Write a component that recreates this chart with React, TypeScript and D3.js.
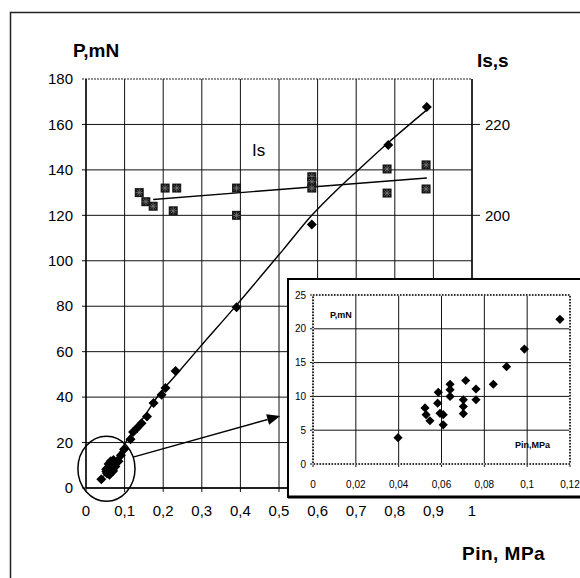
import React from 'react';
import * as d3 from 'd3';

// P (mN) against Pin (MPa): the low points, which the inset also shows
const lowPin = [0.0397, 0.0523, 0.0528, 0.0546, 0.0582, 0.0585, 0.0593, 0.0608, 0.0608, 0.064, 0.064, 0.064, 0.0702, 0.0702, 0.0702, 0.0713, 0.0761, 0.0761, 0.0842, 0.0904, 0.0987, 0.1153];
const lowP = [3.9, 8.3, 7.3, 6.4, 9.0, 10.6, 7.5, 7.3, 5.8, 11.8, 11.0, 10.0, 9.5, 8.5, 7.45, 12.35, 11.1, 9.5, 11.8, 14.4, 17.0, 21.4];
// the rest of the P points
const highPin = [0.122, 0.133, 0.144, 0.158, 0.175, 0.196, 0.206, 0.232, 0.39, 0.585, 0.783, 0.883];
const highP = [24.6, 26.5, 28.5, 31.5, 37.4, 41, 44, 51.5, 79.6, 116, 151, 167.7];

// Is (s) against Pin, right axis
const isPin = [0.138, 0.155, 0.174, 0.205, 0.235, 0.226, 0.39, 0.39, 0.585, 0.585, 0.585, 0.78, 0.78, 0.881, 0.881];
const isVal = [205, 203, 202, 206, 206, 201, 206, 200, 208.5, 207.4, 206, 210.2, 204.9, 211.1, 205.8];

// hand drawn lines
const trendPin = [0.045, 0.075, 0.106, 0.148, 0.192, 0.233, 0.295, 0.39, 0.51, 0.585, 0.658, 0.697, 0.782, 0.883];
const trendP = [5, 12, 21, 30.8, 41.8, 49.7, 62, 80.5, 104.7, 120, 132.5, 138.6, 151.8, 166.4];
const isTrendPin = [0.174, 0.883];
const isTrendVal = [203.5, 208.2];

// ticks
const xTicks = [0, 0.1, 0.2, 0.3, 0.4, 0.5, 0.6, 0.7, 0.8, 0.9, 1];
const yTicks = [0, 20, 40, 60, 80, 100, 120, 140, 160, 180];
const rightTicks = [160, 180, 200, 220];
const insetXTicks = [0, 0.02, 0.04, 0.06, 0.08, 0.1, 0.12];
const insetYTicks = [0, 5, 10, 15, 20, 25];

const FONT = '"Liberation Sans", Arial, sans-serif';
const comma = (d: number) => String(d).replace('.', ',');

const diamond = (size: number) => d3.symbol(d3.symbolSquare, size)() as string;
const star = (r: number) => {
  const k = r * 0.72;
  return `M${-r},0L${r},0M0,${-r}L0,${r}M${-k},${-k}L${k},${k}M${-k},${k}L${k},${-k}`;
};

export default function App() {
  const x = d3.scaleLinear([0, 1], [86, 472]);
  const y = d3.scaleLinear([0, 180], [488, 79]);
  const yR = d3.scaleLinear([140, 230], [488, 79]);

  const ix = d3.scaleLinear([0, 0.12], [313, 570]);
  const iy = d3.scaleLinear([0, 25], [464, 295]);

  const allPin = lowPin.concat(highPin);
  const allP = lowP.concat(highP);

  const pLine = d3
    .line<number>()
    .x((d, i) => x(trendPin[i]))
    .y((d) => y(d))
    .curve(d3.curveCatmullRom)(trendP) as string;
  const isLine = d3.line<number>().x((d, i) => x(isTrendPin[i])).y((d) => yR(d))(isTrendVal) as string;

  // circle round the low points and the arrow to the inset
  const cx = x(0.053), cy = y(8.5);
  const rx = x(0.053 + 0.074) - cx, ry = cy - y(8.5 + 14.3);
  const a0 = [x(0.122), y(13.6)], a1 = [x(0.503), y(31.7)];
  const ang = Math.atan2(a1[1] - a0[1], a1[0] - a0[0]);
  const hl = 13, hw = 5.5;
  const bx = a1[0] - hl * Math.cos(ang), by = a1[1] - hl * Math.sin(ang);
  const head = `M${a1[0]},${a1[1]}L${bx - hw * Math.sin(ang)},${by + hw * Math.cos(ang)}L${bx + hw * Math.sin(ang)},${by - hw * Math.cos(ang)}Z`;

  return (
    <svg width={580} height={578} style={{ position: 'absolute', left: 0, top: 0, background: '#fff' }} fontFamily={FONT}>
      {/* outer frame */}
      <rect x={10.5} y={12.5} width={600} height={600} fill="none" stroke="#222" strokeWidth={1.5} />

      {/* main grid */}
      {xTicks.map((t) => (
        <line key={'gx' + t} x1={x(t)} x2={x(t)} y1={y(180)} y2={y(0) + 4} stroke="#111" strokeWidth={1} />
      ))}
      {yTicks.map((t) =>
        t === 180 ? (
          <line key={'gy' + t} x1={x(0) - 4} x2={x(1)} y1={y(t)} y2={y(t)} stroke="#222" strokeWidth={1} strokeDasharray="2 1" />
        ) : (
          <line key={'gy' + t} x1={x(0) - 4} x2={x(1)} y1={y(t)} y2={y(t)} stroke="#111" strokeWidth={1} />
        )
      )}
      <line x1={x(0)} x2={x(1)} y1={y(0)} y2={y(0)} stroke="#000" strokeWidth={1.5} />
      <line x1={x(0)} x2={x(0)} y1={y(0)} y2={y(180)} stroke="#000" strokeWidth={1.3} />
      <line x1={x(1)} x2={x(1)} y1={y(0)} y2={y(180)} stroke="#000" strokeWidth={1.3} />

      {/* left axis labels */}
      {yTicks.map((t) => (
        <text key={'ly' + t} x={73} y={y(t)} dy="0.35em" textAnchor="end" fontSize={15}>
          {t}
        </text>
      ))}
      {/* bottom axis labels */}
      {xTicks.map((t) => (
        <text key={'lx' + t} x={x(t)} y={516} textAnchor="middle" fontSize={15}>
          {comma(t)}
        </text>
      ))}
      {/* right axis */}
      {rightTicks.map((t) => (
        <g key={'r' + t}>
          <line x1={x(1)} x2={x(1) + 8} y1={yR(t)} y2={yR(t)} stroke="#111" strokeWidth={1} />
          <text x={485} y={yR(t)} dy="0.35em" fontSize={15}>
            {t}
          </text>
        </g>
      ))}

      <text x={73} y={57} fontSize={19} fontWeight="bold">P,mN</text>
      <text x={477} y={67} fontSize={19} fontWeight="bold">Is,s</text>
      <text x={462} y={560} fontSize={19} fontWeight="bold" letterSpacing={0.5}>Pin, MPa</text>
      <text x={x(0.43)} y={y(146)} fontSize={17}>Is</text>

      {/* lines */}
      <path d={isLine} fill="none" stroke="#000" strokeWidth={1.4} />
      <path d={pLine} fill="none" stroke="#000" strokeWidth={1.4} />

      {/* Is markers */}
      {isPin.map((p, i) => (
        <g key={'s' + i} transform={`translate(${x(p)},${yR(isVal[i])})`}>
          <rect x={-4.5} y={-4.5} width={9} height={9} fill="#161616" />
          <path d={star(3.6)} stroke="#777" strokeWidth={0.8} fill="none" />
        </g>
      ))}
      {/* P markers */}
      {allPin.map((p, i) => (
        <path key={'d' + i} d={diamond(50)} transform={`translate(${x(p)},${y(allP[i])}) rotate(45)`} fill="#000" />
      ))}

      {/* circle and arrow */}
      <ellipse cx={cx} cy={cy} rx={rx} ry={ry} fill="none" stroke="#000" strokeWidth={1.5} />
      <line x1={a0[0]} y1={a0[1]} x2={bx} y2={by} stroke="#000" strokeWidth={1.5} />
      <path d={head} fill="#000" />

      {/* inset */}
      <rect x={288} y={279} width={320} height={218} fill="#fff" stroke="#000" strokeWidth={2} />
      <line x1={288} x2={600} y1={497} y2={497} stroke="#000" strokeWidth={3} />
      {insetXTicks.map((t) => (
        <line key={'ix' + t} x1={ix(t)} x2={ix(t)} y1={iy(25)} y2={iy(0) + 3} stroke="#111" strokeWidth={1} />
      ))}
      {insetYTicks.map((t) => (
        <line key={'iy' + t} x1={ix(0) - 3} x2={ix(0.12)} y1={iy(t)} y2={iy(t)} stroke="#111" strokeWidth={1} />
      ))}
      <line x1={ix(0)} x2={ix(0)} y1={iy(0)} y2={iy(25)} stroke="#000" strokeWidth={1.3} />
      <rect x={ix(0)} y={iy(25)} width={ix(0.12) - ix(0)} height={iy(0) - iy(25)} fill="none" stroke="#fff" strokeWidth={1.6} />
      <rect x={ix(0)} y={iy(25)} width={ix(0.12) - ix(0)} height={iy(0) - iy(25)} fill="none" stroke="#000" strokeWidth={1.6} strokeDasharray="1.5 1.5" />
      {insetYTicks.map((t) => (
        <text key={'ily' + t} x={306} y={iy(t)} dy="0.35em" textAnchor="end" fontSize={10}>
          {t}
        </text>
      ))}
      {insetXTicks.map((t) => (
        <text key={'ilx' + t} x={ix(t)} y={488} textAnchor="middle" fontSize={10}>
          {comma(t)}
        </text>
      ))}
      <text x={330} y={318} fontSize={9} fontWeight="bold">P,mN</text>
      <text x={515} y={448} fontSize={9} fontWeight="bold">Pin,MPa</text>
      {lowPin.map((p, i) => (
        <path key={'id' + i} d={diamond(42)} transform={`translate(${ix(p)},${iy(lowP[i])}) rotate(45)`} fill="#000" />
      ))}
    </svg>
  );
}
